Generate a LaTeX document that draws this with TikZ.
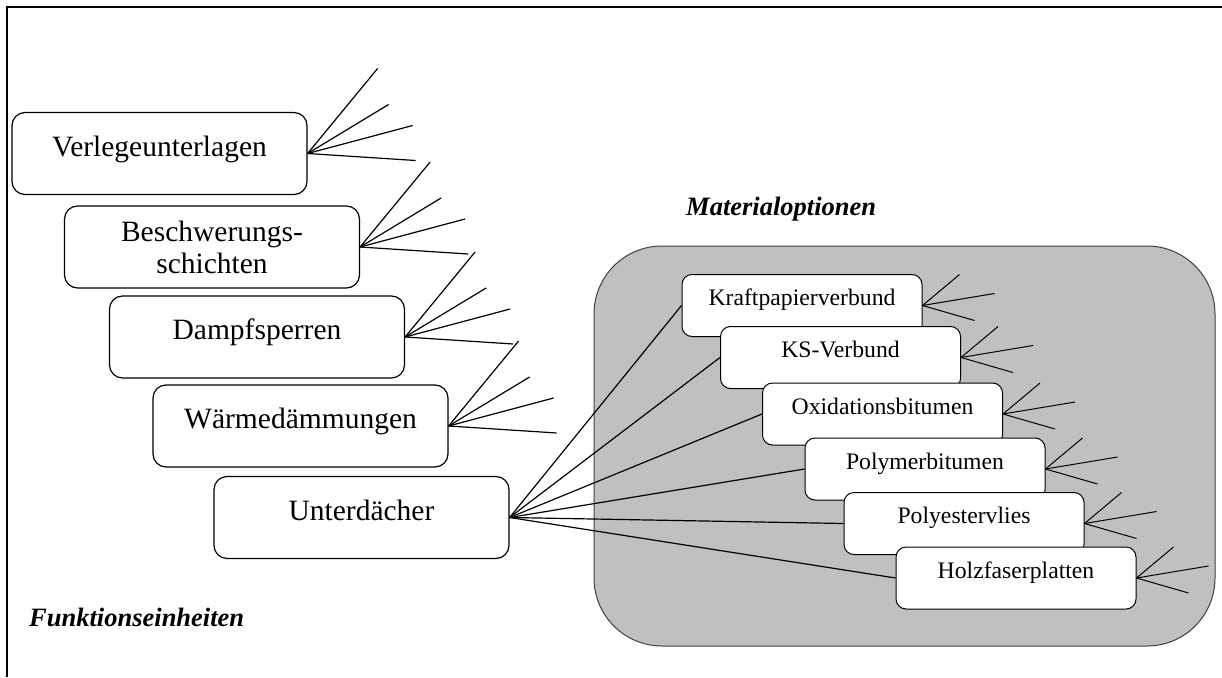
\documentclass[tikz,border=0pt]{standalone}
\usepackage{fontspec}
\setmainfont{Liberation Serif}
\definecolor{panel}{RGB}{192,192,192}
\begin{document}
\begin{tikzpicture}[x=1pt,y=-1pt,
  lboxbase/.style={draw, line width=1.2pt, fill=white, rounded corners=13pt,
    minimum width=295pt, minimum height=82pt, inner sep=0pt,
    font=\fontsize{29.5}{32}\selectfont},
  lbox/.style={lboxbase, text height=20pt, text depth=15pt},
  rbox/.style={draw, line width=1pt, fill=white, rounded corners=10pt,
    minimum width=240pt, minimum height=62pt, inner sep=0pt,
    font=\fontsize{23.7}{26}\selectfont, text height=16pt, text depth=16pt},
  conn/.style={line width=1.2pt},
  title/.style={font=\fontsize{26.5}{30}\selectfont\bfseries\itshape,
    anchor=base west, inner sep=0pt},
  panelbox/.style={draw=black!75, line width=1pt, fill=panel, rounded corners=68pt,
    minimum width=621pt, minimum height=400pt, inner sep=0pt}
]
\useasboundingbox (0,0) rectangle (1222,677);

% frame (top and left edges)
\draw[line width=2pt] (6.5,677) -- (6.5,7) -- (1222,7);

% left column: function units
\node[lbox] (v) at (159.5,153.5) {Verlegeunterlagen};
\node[lboxbase, align=center] (b) at (212,247) {Beschwerungs-\\schichten};
\node[lbox] (d) at (257,337) {Dampfsperren};
\node[lbox] (w) at (300.5,426) {Wärmedämmungen};
\node[lbox] (u) at (361.5,517.5) {Unterdächer};

\foreach \n in {v,b,d,w} {
  \foreach \dx/\dy [count=\i] in {70/-85,81/-49,105/-28,108/7} {
    \coordinate (\n-f\i) at ([shift={(\dx,\dy)}]\n.east);
    \draw[conn] (\n.east) -- (\n-f\i);
  }
}

% material options panel
\node[panelbox] (grp) at (904.5,446) {};
\node[title] (mtitle) at (686,215) {Materialoptionen};
\node[title] (ftitle) at (29,626) {Funktionseinheiten};

% right boxes
\node[rbox] (k)  at (802,305.5) {Kraftpapierverbund};
\node[rbox] (ks) at (840.5,357.5) {KS-Verbund};
\node[rbox] (ox) at (882.5,414) {Oxidationsbitumen};
\node[rbox] (pm) at (925,469) {Polymerbitumen};
\node[rbox] (pe) at (964,523.5) {Polyestervlies};
\node[rbox] (hf) at (1016,578) {Holzfaserplatten};

\foreach \t in {k,ks,ox,pm,pe,hf} {
  \draw[conn] (u.east) -- (\t.west);
  \foreach \dx/\dy [count=\i] in {37/-31,72/-12,52/15} {
    \coordinate (\t-f\i) at ([shift={(\dx,\dy)}]\t.east);
    \draw[line width=1pt] (\t.east) -- (\t-f\i);
  }
}
\end{tikzpicture}
\end{document}
